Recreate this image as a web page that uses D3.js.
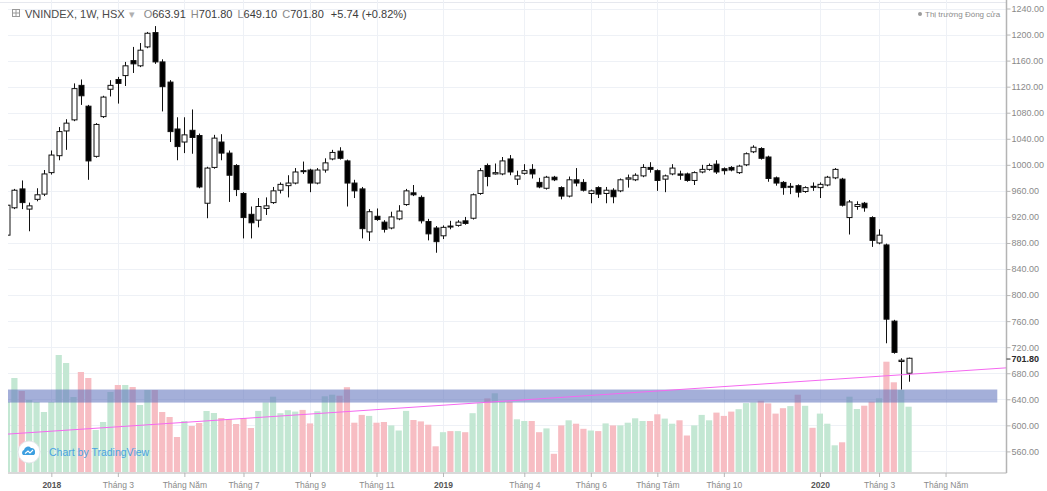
<!DOCTYPE html>
<html>
<head>
<meta charset="utf-8">
<script src="https://cdn.jsdelivr.net/npm/d3@7"></script>
<style>
  body { margin: 0; background: #fff; }
  svg { display: block; font-family: "Liberation Sans", Arial, sans-serif; }
</style>
</head>
<body>
<div id="chart"></div>
<script>
//////////////////////////////////////////////////////////////////////////////
// Weekly VNINDEX bars (one entry per week)

var open = [892, 934, 963, 932, 947, 955, 988, 1014, 1052, 1069,
  1122, 1090, 1013, 1074, 1116, 1131, 1137, 1160, 1152, 1181,
  1203, 1158, 1127, 1055, 1035, 1053, 1045, 941, 996, 1035,
  1018, 999, 956, 924, 915, 933, 942, 961, 968, 972,
  991, 992, 972, 992, 1009, 1021, 1006, 972, 963, 897,
  921, 912, 903, 917, 939, 957, 950, 913, 903, 891,
  906, 907, 914, 918, 956, 999, 986, 986, 1009, 978,
  987, 993, 973, 964, 981, 965, 952, 977, 973, 956,
  965, 956, 961, 960, 978, 977, 983, 996, 991, 978,
  986, 986, 986, 976, 989, 993, 1001, 994, 996, 988,
  1000, 1020, 1025, 1012, 980, 973, 966, 968, 959, 967,
  965, 969, 980, 978, 919, 936, 941, 919, 880, 877,
  760, 698, 680];
var high = [940, 963, 976, 942, 964, 992, 1022, 1058, 1070, 1125,
  1131, 1092, 1064, 1106, 1130, 1135, 1158, 1181, 1187, 1204,
  1213, 1162, 1130, 1073, 1073, 1085, 1048, 997, 1046, 1047,
  1022, 1001, 958, 936, 949, 950, 966, 973, 984, 995,
  1005, 994, 995, 1010, 1023, 1027, 1008, 977, 966, 932,
  933, 915, 928, 938, 963, 969, 953, 917, 906, 907,
  914, 915, 920, 956, 995, 1002, 1002, 1012, 1015, 991,
  1001, 1001, 980, 983, 983, 967, 982, 995, 978, 962,
  967, 966, 964, 979, 985, 987, 1001, 1004, 993, 985,
  1001, 991, 988, 990, 1000, 1002, 1007, 996, 998, 1000,
  1019, 1030, 1027, 1014, 982, 975, 972, 970, 967, 973,
  973, 983, 995, 980, 946, 944, 943, 921, 901, 879,
  762, 703, 704];
var low = [890, 932, 932, 898, 944, 952, 985, 1007, 1023, 1067,
  1092, 977, 1011, 1072, 1105, 1094, 1121, 1141, 1150, 1179,
  1155, 1082, 1035, 1007, 1018, 1017, 964, 918, 994, 1007,
  943, 952, 887, 887, 904, 923, 940, 956, 950, 970,
  986, 958, 970, 988, 1007, 1008, 936, 949, 887, 883,
  914, 896, 901, 915, 937, 952, 910, 884, 865, 886,
  901, 905, 908, 916, 954, 967, 985, 984, 984, 969,
  985, 979, 964, 962, 975, 947, 950, 967, 959, 941,
  949, 941, 941, 958, 965, 975, 981, 988, 960, 958,
  984, 977, 974, 969, 987, 991, 986, 985, 990, 986,
  998, 1018, 1008, 974, 968, 954, 955, 950, 957, 960,
  949, 967, 978, 936, 893, 931, 928, 874, 878, 726,
  710, 655, 667];
var close = [938, 961, 942, 937, 954, 986, 1015, 1051, 1064, 1117,
  1106, 1006, 1062, 1104, 1122, 1125, 1152, 1155, 1176, 1202,
  1158, 1120, 1051, 1028, 1046, 1042, 966, 995, 1041, 1018,
  984, 962, 919, 911, 936, 937, 960, 970, 972, 989,
  990, 972, 992, 1003, 1019, 1010, 972, 960, 902, 928,
  916, 901, 920, 929, 960, 954, 914, 894, 882, 904,
  905, 912, 910, 954, 991, 982, 988, 1006, 989, 983,
  991, 986, 966, 981, 977, 952, 977, 972, 961, 960,
  955, 961, 951, 977, 980, 984, 996, 993, 976, 983,
  995, 984, 976, 988, 993, 999, 989, 991, 992, 998,
  1017, 1027, 1010, 979, 972, 965, 967, 958, 965, 966,
  970, 981, 993, 938, 943, 939, 934, 884, 892, 763,
  712, 700, 703];
// weekly volume, millions of shares (approximate)
var volume = [700, 940, 810, 720, 700, 600, 700, 1170, 1090, 750,
  1000, 940, 420, 500, 800, 870, 870, 850, 670, 820,
  820, 600, 550, 350, 510, 460, 490, 610, 590, 540,
  530, 480, 540, 440, 611, 696, 753, 588, 618, 604,
  621, 486, 608, 757, 773, 763, 848, 493, 571, 561,
  493, 500, 466, 415, 611, 520, 506, 473, 257, 398,
  409, 409, 398, 588, 689, 736, 787, 702, 702, 527,
  510, 510, 398, 436, 182, 466, 517, 483, 432, 415,
  409, 486, 466, 466, 493, 537, 510, 510, 577, 534,
  483, 517, 365, 466, 571, 517, 594, 561, 604, 628,
  689, 696, 713, 686, 584, 638, 659, 773, 662, 442,
  584, 483, 267, 297, 753, 630, 663, 703, 737, 1103,
  897, 820, 653];

// time axis: bar index where each label sits
var timeTickIdx = [6, 15, 24, 32, 41, 50, 59, 70, 79, 88, 97, 110, 118, 127];
var timeTickLabels = ["2018", "Tháng 3", "Tháng Năm", "Tháng 7", "Tháng 9", "Tháng 11",
  "2019", "Tháng 4", "Tháng 6", "Tháng Tám", "Tháng 10", "2020", "Tháng 3", "Tháng Năm"];
var yearLabels = ["2018", "2019", "2020"];

var priceTicks = [560, 600, 640, 680, 720, 760, 800, 840, 880, 920, 960, 1000,
  1040, 1080, 1120, 1160, 1200, 1240];
var lastPrice = 701.80;

// drawings on the chart
var zonePrices = [635, 655];        // blue rectangle
var zoneEndIdx = 134;
var trendIdx = [0, 110];            // pink trend line anchors
var trendPrices = [586.5, 669.3];

var legendName = "VNINDEX, 1W, HSX";
var legendOHLC = [["O", "663.91"], ["H", "701.80"], ["L", "649.10"], ["C", "701.80"]];
var legendChange = "+5.74 (+0.82%)";

//////////////////////////////////////////////////////////////////////////////
// Layout and scales

var width = 1047, height = 491;
var paneLeft = 8, paneRight = 1006.5, paneBottom = 473;

var xScale = d3.scaleLinear().domain([0, 122]).range([7, 908.6]);
var yScale = d3.scaleLinear().domain([560, 1240]).range([451.4, 8.5]);
var vScale = d3.scaleLinear().domain([0, 1300]).range([472, 342]);

var bars = open.map(function(o, i) {
  return { i: i, o: o, h: high[i], l: low[i], c: close[i], v: volume[i], up: close[i] >= o };
});

var svg = d3.select("#chart").append("svg")
  .attr("width", width)
  .attr("height", height);

svg.append("defs").append("clipPath").attr("id", "pane")
  .append("rect")
  .attr("x", paneLeft).attr("y", 0)
  .attr("width", paneRight - paneLeft).attr("height", paneBottom);

// top border
svg.append("line")
  .attr("x1", 0).attr("x2", paneRight).attr("y1", 2.5).attr("y2", 2.5)
  .attr("stroke", "#e6e8ee");

var pane = svg.append("g").attr("clip-path", "url(#pane)");

// grid
pane.append("g").selectAll("line").data(priceTicks).enter().append("line")
  .attr("x1", paneLeft).attr("x2", paneRight)
  .attr("y1", function(d) { return Math.round(yScale(d)) + 0.5; })
  .attr("y2", function(d) { return Math.round(yScale(d)) + 0.5; })
  .attr("stroke", "#eef1f6");
pane.append("g").selectAll("line").data(timeTickIdx).enter().append("line")
  .attr("x1", function(d) { return Math.round(xScale(d)) + 0.5; })
  .attr("x2", function(d) { return Math.round(xScale(d)) + 0.5; })
  .attr("y1", 0).attr("y2", paneBottom)
  .attr("stroke", "#eef1f6");

// volume
var barW = 6.2;
pane.append("g").selectAll("rect").data(bars).enter().append("rect")
  .attr("x", function(d) { return xScale(d.i) - barW / 2; })
  .attr("y", function(d) { return vScale(d.v); })
  .attr("width", barW)
  .attr("height", function(d) { return vScale(0) - vScale(d.v); })
  .attr("fill", function(d) { return d.up ? "#c3e7d3" : "#f7bdc3"; });

// blue zone
pane.append("rect")
  .attr("x", paneLeft)
  .attr("y", yScale(zonePrices[1]))
  .attr("width", xScale(zoneEndIdx) - paneLeft)
  .attr("height", yScale(zonePrices[0]) - yScale(zonePrices[1]))
  .attr("fill", "rgba(98,118,190,0.58)");

// candles
var bodyW = 5;
var candle = pane.append("g").selectAll("g").data(bars).enter().append("g");
candle.append("line")
  .attr("x1", function(d) { return Math.round(xScale(d.i)) + 0.5; })
  .attr("x2", function(d) { return Math.round(xScale(d.i)) + 0.5; })
  .attr("y1", function(d) { return yScale(d.h); })
  .attr("y2", function(d) { return yScale(d.l); })
  .attr("stroke", "#111");
candle.append("rect")
  .attr("x", function(d) { return Math.round(xScale(d.i)) + 0.5 - bodyW / 2; })
  .attr("y", function(d) { return yScale(Math.max(d.o, d.c)); })
  .attr("width", bodyW)
  .attr("height", function(d) { return Math.max(1, Math.abs(yScale(d.o) - yScale(d.c))); })
  .attr("fill", function(d) { return d.up ? "#fff" : "#000"; })
  .attr("stroke", "#111")
  .attr("stroke-width", 1);

// pink trend line, extended to the right edge
var slope = (trendPrices[1] - trendPrices[0]) / (trendIdx[1] - trendIdx[0]);
var rightIdx = xScale.invert(paneRight);
pane.append("line")
  .attr("x1", xScale(trendIdx[0])).attr("y1", yScale(trendPrices[0]))
  .attr("x2", xScale(rightIdx))
  .attr("y2", yScale(trendPrices[0] + slope * (rightIdx - trendIdx[0])))
  .attr("stroke", "#f568f0")
  .attr("stroke-width", 1);

//////////////////////////////////////////////////////////////////////////////
// Axes

var yAxis = d3.axisRight(yScale)
  .tickValues(priceTicks)
  .tickFormat(d3.format(".2f"))
  .tickSize(4)
  .tickPadding(1);
var gy = svg.append("g").attr("transform", "translate(" + paneRight + ",0)").call(yAxis);
gy.select(".domain").remove();
gy.selectAll(".tick line").attr("stroke", "#b8b8b8");
gy.selectAll(".tick text").attr("fill", "#8a8a8a").style("font-size", "9px");

svg.append("line")
  .attr("x1", paneRight).attr("x2", paneRight).attr("y1", 0).attr("y2", paneBottom)
  .attr("stroke", "#b4b4b4").attr("stroke-width", 1.5);

// last price marker
svg.append("line")
  .attr("x1", paneRight).attr("x2", paneRight + 4)
  .attr("y1", yScale(lastPrice)).attr("y2", yScale(lastPrice))
  .attr("stroke", "#333");
svg.append("text")
  .attr("x", paneRight + 5).attr("y", yScale(lastPrice)).attr("dy", "0.32em")
  .attr("fill", "#2a2a2a").style("font-size", "9px").style("font-weight", "bold")
  .text(d3.format(".2f")(lastPrice));

var xAxis = d3.axisBottom(xScale)
  .tickValues(timeTickIdx)
  .tickFormat(function(d, i) { return timeTickLabels[i]; })
  .tickSize(4)
  .tickPadding(5);
var gx = svg.append("g").attr("transform", "translate(0," + paneBottom + ")").call(xAxis);
gx.select(".domain").remove();
gx.selectAll(".tick line").attr("stroke", "#b8b8b8");
gx.selectAll(".tick text")
  .attr("fill", function(d, i) { return yearLabels.indexOf(timeTickLabels[i]) >= 0 ? "#555" : "#8a8a8a"; })
  .style("font-weight", function(d, i) { return yearLabels.indexOf(timeTickLabels[i]) >= 0 ? "bold" : "normal"; })
  .style("font-size", "8.5px");

svg.append("line")
  .attr("x1", paneLeft).attr("x2", paneRight).attr("y1", paneBottom).attr("y2", paneBottom)
  .attr("stroke", "#b4b4b4").attr("stroke-width", 1.2);

//////////////////////////////////////////////////////////////////////////////
// Legend, status and watermark

var icon = svg.append("g").attr("transform", "translate(12.5,9.5)");
icon.append("rect").attr("width", 7).attr("height", 7).attr("fill", "none").attr("stroke", "#9a9a9a");
icon.append("path").attr("d", "M3.5,0V7M0,3.5H7").attr("stroke", "#9a9a9a");

var legend = svg.append("text").attr("x", 25).attr("y", 17.5)
  .style("font-size", "11px").attr("fill", "#4a4a4a");
legend.append("tspan").text(legendName);
legend.append("tspan").attr("fill", "#b0b0b0").attr("dx", 4).text("▾");
legendOHLC.forEach(function(p, i) {
  legend.append("tspan").attr("dx", i === 0 ? 9 : 5).attr("fill", "#8a8a8a").text(p[0]);
  legend.append("tspan").attr("fill", "#3c3c3c").text(p[1]);
});
legend.append("tspan").attr("dx", 7).attr("fill", "#3c3c3c").text(legendChange);

svg.append("circle").attr("cx", 920).attr("cy", 14).attr("r", 2).attr("fill", "#9a9a9a");
svg.append("text").attr("x", 925).attr("y", 17)
  .style("font-size", "8px").attr("fill", "#8c8c8c")
  .text("Thị trường Đóng cửa");

var wm = svg.append("g").attr("transform", "translate(29,452)");
wm.append("circle").attr("r", 11).attr("fill", "#fff").attr("stroke", "#e4e6ea");
wm.append("path")
  .attr("d", "M-6,3 A3,3 0 0 1 -5,-2 A4,4 0 0 1 2,-4 A3.5,3.5 0 0 1 6,0 A3,3 0 0 1 5,3 Z")
  .attr("fill", "#3c9fe0");
wm.append("path").attr("d", "M-4,1.5 L-1,-1 L1,1 L4,-2")
  .attr("fill", "none").attr("stroke", "#fff").attr("stroke-width", 1.1);
svg.append("text").attr("x", 49).attr("y", 456)
  .style("font-size", "10.5px").attr("fill", "#4aa3e2")
  .text("Chart by TradingView");
</script>
</body>
</html>
